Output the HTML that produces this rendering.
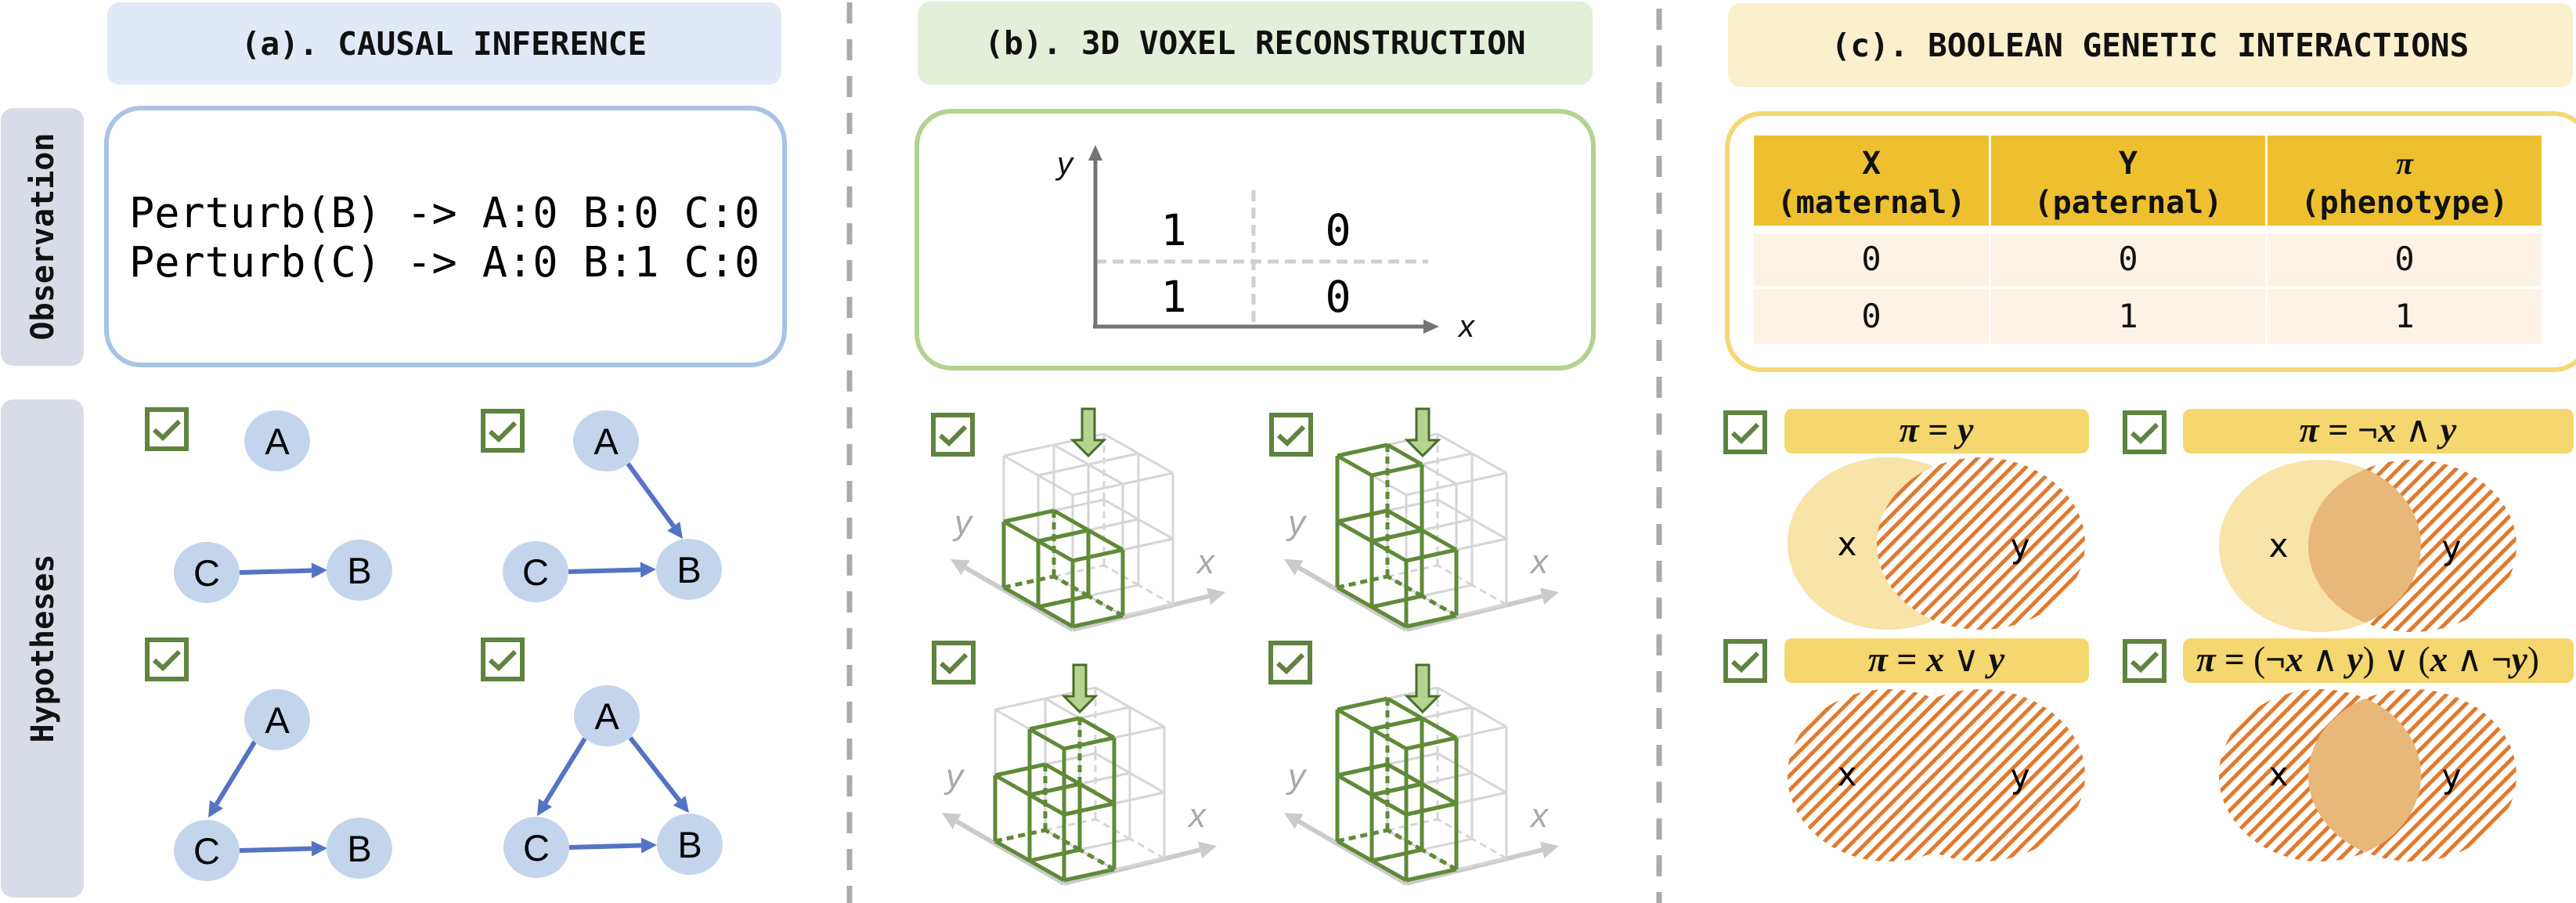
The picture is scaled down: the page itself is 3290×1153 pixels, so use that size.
<!DOCTYPE html>
<html><head><meta charset="utf-8">
<style>
html,body{margin:0;padding:0;background:#fff;}
svg{display:block;}
.mono{font-family:"DejaVu Sans Mono","Liberation Mono",monospace;}
.sans{font-family:"Liberation Sans","DejaVu Sans",sans-serif;}
.ser{font-family:"Liberation Serif","DejaVu Serif",serif;}
</style></head>
<body>
<svg id="s" width="3290" height="1153" viewBox="0 0 3290 1153" xmlns="http://www.w3.org/2000/svg">
<defs>
<pattern id="hatch" patternUnits="userSpaceOnUse" width="13" height="13" patternTransform="rotate(45)">
<rect width="13" height="13" fill="#fff"/>
<rect x="0" y="0" width="5" height="13" fill="#e07a30"/>
</pattern>
<clipPath id="c1"><ellipse cx="2412" cy="694" rx="129" ry="110"/></clipPath>
<clipPath id="c2"><ellipse cx="2963" cy="697" rx="129" ry="110"/></clipPath>
<clipPath id="c4"><ellipse cx="2963" cy="990" rx="129" ry="110"/></clipPath>
</defs>

<line x1="1085" y1="3" x2="1085" y2="1153" stroke="#ababab" stroke-width="7" stroke-dasharray="27 20"/>
<line x1="2119" y1="11" x2="2119" y2="1153" stroke="#ababab" stroke-width="7" stroke-dasharray="27 20"/>

<!-- ===== Panel A ===== -->
<rect x="137" y="3" width="861" height="105" rx="16" fill="#e1e9f6"/>
<text x="567" y="70" text-anchor="middle" class="mono" font-weight="bold" font-size="41" fill="#111">(a). CAUSAL INFERENCE</text>

<rect x="1" y="138" width="106" height="329" rx="16" fill="#d7dce6"/>
<text transform="translate(68,302) rotate(-90)" text-anchor="middle" class="mono" font-weight="bold" font-size="40" fill="#111">Observation</text>
<rect x="1" y="510" width="106" height="636" rx="16" fill="#d7dce6"/>
<text transform="translate(68,828) rotate(-90)" text-anchor="middle" class="mono" font-weight="bold" font-size="40" fill="#111">Hypotheses</text>

<rect x="136" y="138" width="866" height="328" rx="44" fill="none" stroke="#a9c3e5" stroke-width="6"/>
<text x="165" y="290" class="mono" font-size="53.5" fill="#000">Perturb(B) -&gt; A:0 B:0 C:0</text>
<text x="165" y="353" class="mono" font-size="53.5" fill="#000">Perturb(C) -&gt; A:0 B:1 C:0</text>

<g id="graphs"></g>

<!-- ===== Panel B ===== -->
<rect x="1172" y="2" width="862" height="106" rx="16" fill="#e3efd8"/>
<text x="1603" y="69" text-anchor="middle" class="mono" font-weight="bold" font-size="41" fill="#111">(b). 3D VOXEL RECONSTRUCTION</text>
<rect x="1171" y="142" width="864" height="328" rx="44" fill="none" stroke="#b3d28f" stroke-width="6"/>
<line x1="1601" y1="243" x2="1601" y2="417" stroke="#cfcfcf" stroke-width="5" stroke-dasharray="14 8"/>
<line x1="1399" y1="334" x2="1824" y2="334" stroke="#cfcfcf" stroke-width="5" stroke-dasharray="14 8"/>
<line x1="1399" y1="417" x2="1399" y2="200" stroke="#747474" stroke-width="5"/>
<polygon points="1399,185 1390,205 1408,205" fill="#747474"/>
<line x1="1396" y1="417" x2="1820" y2="417" stroke="#747474" stroke-width="5"/>
<polygon points="1838,417 1818,408 1818,426" fill="#747474"/>
<text x="1360" y="222" text-anchor="middle" class="sans" font-style="italic" font-size="40" fill="#111">y</text>
<text x="1873" y="430" text-anchor="middle" class="sans" font-style="italic" font-size="40" fill="#111">x</text>
<text x="1499" y="313" text-anchor="middle" class="mono" font-size="55" fill="#000">1</text>
<text x="1709" y="313" text-anchor="middle" class="mono" font-size="55" fill="#000">0</text>
<text x="1499" y="398" text-anchor="middle" class="mono" font-size="55" fill="#000">1</text>
<text x="1709" y="398" text-anchor="middle" class="mono" font-size="55" fill="#000">0</text>

<g id="vox"></g>

<!-- ===== Panel C ===== -->
<rect x="2207" y="4" width="1079" height="107" rx="16" fill="#fbf0cd"/>
<text x="2746" y="72" text-anchor="middle" class="mono" font-weight="bold" font-size="41" fill="#111">(c). BOOLEAN GENETIC INTERACTIONS</text>
<rect x="2206" y="145" width="1100" height="327" rx="44" fill="none" stroke="#f5d873" stroke-width="6"/>
<rect x="2240" y="173" width="300" height="115" fill="#eec030"/>
<rect x="2543" y="173" width="350" height="115" fill="#eec030"/>
<rect x="2896" y="173" width="350" height="115" fill="#eec030"/>
<rect x="2240" y="298" width="300" height="67" fill="#fcf3e6"/>
<rect x="2543" y="298" width="350" height="67" fill="#fcf3e6"/>
<rect x="2896" y="298" width="350" height="67" fill="#fcf3e6"/>
<rect x="2240" y="369" width="300" height="70" fill="#fcf3e6"/>
<rect x="2543" y="369" width="350" height="70" fill="#fcf3e6"/>
<rect x="2896" y="369" width="350" height="70" fill="#fcf3e6"/>
<g class="mono" font-weight="bold" font-size="40" fill="#111" text-anchor="middle">
<text x="2390" y="222">X</text><text x="2390" y="272">(maternal)</text>
<text x="2718" y="222">Y</text><text x="2718" y="272">(paternal)</text>
<text x="3071" y="222" class="ser" font-style="italic">π</text><text x="3071" y="272">(phenotype)</text>
</g>
<g class="mono" font-size="42" fill="#111" text-anchor="middle">
<text x="2390" y="345">0</text><text x="2718" y="345">0</text><text x="3071" y="345">0</text>
<text x="2390" y="418">0</text><text x="2718" y="418">1</text><text x="3071" y="418">1</text>
</g>

<rect x="2279" y="522" width="389" height="57" rx="10" fill="#f4d76e"/>
<rect x="2788" y="522" width="499" height="57" rx="10" fill="#f4d76e"/>
<rect x="2279" y="815" width="389" height="57" rx="10" fill="#f4d76e"/>
<rect x="2788" y="815" width="499" height="57" rx="10" fill="#f4d76e"/>
<g class="ser" font-size="46" fill="#111" text-anchor="middle" font-weight="bold">
<text x="2473" y="564"><tspan font-style="italic">π</tspan> = <tspan font-style="italic">y</tspan></text>
<text x="3037" y="564"><tspan font-style="italic">π</tspan> = ¬<tspan font-style="italic">x</tspan> <tspan font-weight="normal">∧</tspan> <tspan font-style="italic">y</tspan></text>
<text x="2473" y="857"><tspan font-style="italic">π</tspan> = <tspan font-style="italic">x</tspan> <tspan font-weight="normal">∨</tspan> <tspan font-style="italic">y</tspan></text>
<text x="3024" y="857" textLength="438" lengthAdjust="spacingAndGlyphs"><tspan font-style="italic">π</tspan> = <tspan font-weight="normal">(</tspan>¬<tspan font-style="italic">x</tspan> <tspan font-weight="normal">∧</tspan> <tspan font-style="italic">y</tspan><tspan font-weight="normal">) ∨ (</tspan><tspan font-style="italic">x</tspan> <tspan font-weight="normal">∧</tspan> ¬<tspan font-style="italic">y</tspan><tspan font-weight="normal">)</tspan></text>
</g>

<ellipse cx="2412" cy="694" rx="129" ry="110" fill="#f8e3a8"/>
<ellipse cx="2530" cy="694" rx="133" ry="110" fill="url(#hatch)"/>
<ellipse cx="2963" cy="697" rx="129" ry="110" fill="#f8e3a8"/>
<ellipse cx="3081" cy="697" rx="133" ry="110" fill="url(#hatch)"/>
<ellipse cx="3081" cy="697" rx="133" ry="110" fill="#e8b87a" clip-path="url(#c2)"/>
<ellipse cx="2412" cy="990" rx="129" ry="110" fill="url(#hatch)"/>
<ellipse cx="2530" cy="990" rx="133" ry="110" fill="url(#hatch)"/>
<ellipse cx="2963" cy="990" rx="129" ry="110" fill="url(#hatch)"/>
<ellipse cx="3081" cy="990" rx="133" ry="110" fill="url(#hatch)"/>
<ellipse cx="3081" cy="990" rx="133" ry="110" fill="#e8b87a" clip-path="url(#c4)"/>
<g font-family="DejaVu Sans, Liberation Sans, sans-serif" font-size="42" fill="#000" text-anchor="middle">
<text x="2359" y="709">x</text><text x="2580" y="712">y</text>
<text x="2910" y="711">x</text><text x="3131" y="714">y</text>
<text x="2359" y="1003">x</text><text x="2580" y="1006">y</text>
<text x="2910" y="1003">x</text><text x="3131" y="1006">y</text>
</g>
<g id="cbs"></g>
</svg>
<script>
function add(parent,html){document.getElementById(parent).insertAdjacentHTML('beforeend',html);}
function cb(x,y){var w=56;return '<rect x="'+(x+3)+'" y="'+(y+3)+'" width="'+(w-6)+'" height="'+(w-6)+'" fill="#fff" stroke="#608340" stroke-width="6"/>'+
'<polyline points="'+(x+12)+','+(y+29)+' '+(x+23)+','+(y+39)+' '+(x+44)+','+(y+18)+'" fill="none" stroke="#608340" stroke-width="6"/>';}
var boxes=[[185,520],[614,522],[185,814],[614,814],[1189,527],[1621,527],[1190,818],[1620,818],[2201,524],[2711,524],[2201,816],[2711,816]];
var s='';boxes.forEach(function(b){s+=cb(b[0],b[1]);});add('cbs',s);

function node(x,y,l){return '<ellipse cx="'+x+'" cy="'+y+'" rx="42" ry="39" fill="#c3d5ec"/><text x="'+x+'" y="'+(y+17)+'" text-anchor="middle" font-family="Liberation Sans,sans-serif" font-size="47" fill="#000">'+l+'</text>';}
function arrow(x1,y1,x2,y2){var dx=x2-x1,dy=y2-y1,L=Math.sqrt(dx*dx+dy*dy),ux=dx/L,uy=dy/L,h=20,w=10;
var bx=x2-ux*h,by=y2-uy*h;
return '<line x1="'+x1+'" y1="'+y1+'" x2="'+bx+'" y2="'+by+'" stroke="#5473c4" stroke-width="6"/>'+
'<polygon points="'+x2+','+y2+' '+(bx-uy*w)+','+(by+ux*w)+' '+(bx+uy*w)+','+(by-ux*w)+'" fill="#5473c4"/>';}
var g='';
g+=arrow(306,731,418,728)+node(354,563,'A')+node(264,731,'C')+node(459,728,'B');
g+=arrow(802,592,872,688)+arrow(726,730,838,727)+node(774,563,'A')+node(684,730,'C')+node(880,727,'B');
g+=arrow(326,946,266,1044)+arrow(306,1086,418,1083)+node(354,919,'A')+node(264,1086,'C')+node(459,1083,'B');
g+=arrow(747,943,686,1042)+arrow(805,942,880,1038)+arrow(727,1082,839,1079)+node(775,914,'A')+node(685,1082,'C')+node(881,1078,'B');
add('graphs',g);

var ex=[64,-14],ey=[-44,-25],ez=[0,-84];
function P(O,a,b,c){return [O[0]+a*ex[0]+b*ey[0]+c*ez[0],O[1]+a*ex[1]+b*ey[1]+c*ez[1]];}
function cube(O,i,j,k,col,w){var out='';var V=[];
 for(var a=0;a<2;a++)for(var b=0;b<2;b++)for(var c=0;c<2;c++)V.push([a,b,c]);
 var edges=[];
 V.forEach(function(v){[[1,0,0],[0,1,0],[0,0,1]].forEach(function(d){var u=[v[0]+d[0],v[1]+d[1],v[2]+d[2]];if(u[0]<2&&u[1]<2&&u[2]<2)edges.push([v,u]);});});
 edges.forEach(function(e){var hid=function(v){return v[0]==1&&v[1]==1&&v[2]==0;};
  var p=P(O,i+e[0][0],j+e[0][1],k+e[0][2]),q=P(O,i+e[1][0],j+e[1][1],k+e[1][2]);
  var dash=(hid(e[0])||hid(e[1]))?' stroke-dasharray="9 6"':'';
  out+='<line x1="'+p[0]+'" y1="'+p[1]+'" x2="'+q[0]+'" y2="'+q[1]+'" stroke="'+col+'" stroke-width="'+w+'"'+dash+'/>';});
 return out;}
function axes(O){var o=[O[0],O[1]+4];var xa=[O[0]+195,O[1]-44],ya=[O[0]-156,O[1]-86];
 var s='';
 function ar(a,b){var dx=b[0]-a[0],dy=b[1]-a[1],L=Math.sqrt(dx*dx+dy*dy),ux=dx/L,uy=dy/L,h=22,w=11;var bx=b[0]-ux*h,by=b[1]-uy*h;
  return '<line x1="'+a[0]+'" y1="'+a[1]+'" x2="'+bx+'" y2="'+by+'" stroke="#cbcbcb" stroke-width="6"/><polygon points="'+b[0]+','+b[1]+' '+(bx-uy*w)+','+(by+ux*w)+' '+(bx+uy*w)+','+(by-ux*w)+'" fill="#cbcbcb"/>';}
 s+=ar(o,xa)+ar(o,ya);
 s+='<text x="'+(O[0]-140)+'" y="'+(O[1]-118)+'" text-anchor="middle" font-family="Liberation Sans,sans-serif" font-style="italic" font-size="44" fill="#a9a9a9">y</text>';
 s+='<text x="'+(O[0]+170)+'" y="'+(O[1]-68)+'" text-anchor="middle" font-family="Liberation Sans,sans-serif" font-style="italic" font-size="44" fill="#a9a9a9">x</text>';
 return s;}
function darrow(x,y){return '<polygon points="'+(x-8)+','+y+' '+(x+8)+','+y+' '+(x+8)+','+(y+40)+' '+(x+20)+','+(y+40)+' '+x+','+(y+60)+' '+(x-20)+','+(y+40)+' '+(x-8)+','+(y+40)+'" fill="#b5d490" stroke="#4a6d2a" stroke-width="3"/>';}
var figs=[
 {O:[1370,800],g:[[0,0,0],[0,1,0]],ax:1390,ay:522},
 {O:[1796,800],g:[[0,1,0],[0,1,1],[0,0,0]],ax:1817,ay:522},
 {O:[1359,1124],g:[[0,1,0],[0,0,0],[0,0,1]],ax:1379,ay:849},
 {O:[1796,1124],g:[[0,1,0],[0,1,1],[0,0,0],[0,0,1]],ax:1817,ay:849}];
var v='';
figs.forEach(function(f){
 v+=axes(f.O);
 var order=[[1,1],[0,1],[1,0],[0,0]];
 for(var k=0;k<2;k++)order.forEach(function(ij){v+=cube(f.O,ij[0],ij[1],k,'#d6d6d6',3);});
 f.g.slice().sort(function(a,b){return (b[1]-a[1])||(a[2]-b[2]);}).forEach(function(c){v+=cube(f.O,c[0],c[1],c[2],'#5f8a38',5);});
 v+=darrow(f.ax,f.ay);
});
add('vox',v);
</script>
</body></html>
